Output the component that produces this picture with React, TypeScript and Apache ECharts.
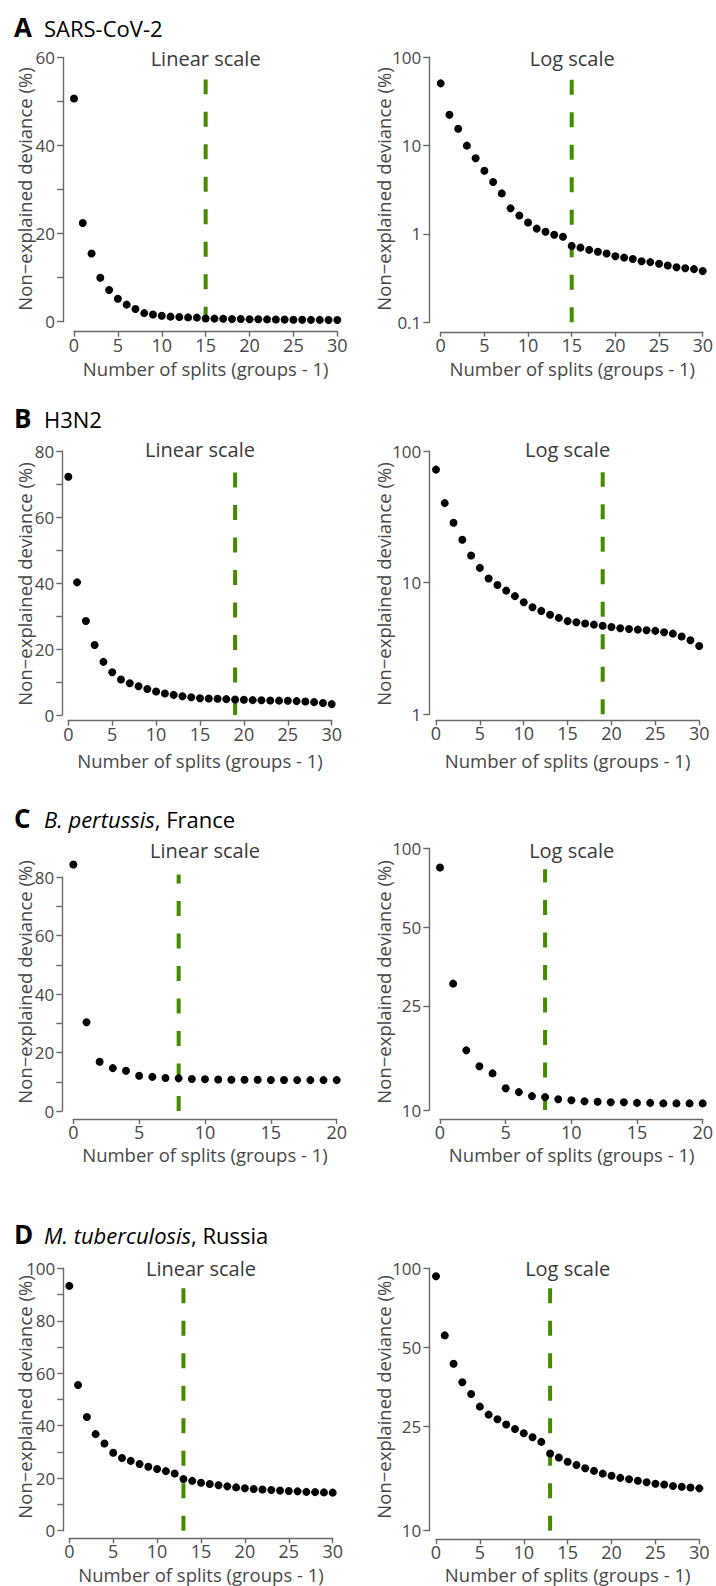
import React, { useEffect, useRef } from "react";
import * as echarts from "echarts";

const W = 716;
const H = 1586;
const FONT = "'Open Sans', 'Noto Sans', sans-serif";

// Non-explained deviance (%) for 0..n splits
const sarsCov2 = [50.7, 22.4, 15.5, 10.0, 7.2, 5.2, 3.87, 2.88, 1.95, 1.62, 1.35, 1.15, 1.06, 0.98, 0.93, 0.73, 0.70, 0.66, 0.63, 0.60, 0.56, 0.54, 0.52, 0.49, 0.48, 0.46, 0.44, 0.42, 0.41, 0.40, 0.38];
const h3n2 = [72.2, 40.2, 28.5, 21.2, 16.1, 12.95, 10.75, 9.6, 8.7, 7.9, 7.1, 6.5, 6.1, 5.7, 5.4, 5.1, 5.0, 4.9, 4.8, 4.7, 4.6, 4.5, 4.45, 4.4, 4.35, 4.3, 4.2, 4.1, 3.9, 3.65, 3.3];
const pertussis = [84.4, 30.4, 16.9, 14.7, 13.8, 12.1, 11.7, 11.3, 11.2, 11.0, 10.9, 10.8, 10.75, 10.7, 10.7, 10.65, 10.65, 10.6, 10.6, 10.6, 10.6];
const tuberculosis = [93.3, 55.5, 43.3, 36.8, 33.2, 29.7, 27.7, 26.6, 25.4, 24.4, 23.5, 22.7, 21.8, 19.7, 19.0, 18.3, 17.8, 17.3, 16.9, 16.5, 16.2, 15.9, 15.7, 15.5, 15.3, 15.1, 15.0, 14.8, 14.7, 14.6, 14.5];

// Selected number of splits (dashed line)
const chosenSplits = [15, 19, 8, 13];

// Axis ticks and labels
const xTicks30 = [0, 5, 10, 15, 20, 25, 30];
const xTicks20 = [0, 5, 10, 15, 20];
const linLabelsA = [0, 20, 40, 60];
const linTicksA = [0, 10, 20, 30, 40, 50, 60];
const linLabelsB = [0, 20, 40, 60, 80];
const linTicksB = [0, 10, 20, 30, 40, 50, 60, 70, 80];
const linLabelsC = [0, 20, 40, 60, 80];
const linTicksC = [0, 10, 20, 30, 40, 50, 60, 70, 80];
const linLabelsD = [0, 20, 40, 60, 80, 100];
const linTicksD = [0, 10, 20, 30, 40, 50, 60, 70, 80, 90, 100];
const logTicksA = [0.1, 1, 10, 100];
const logTicksB = [1, 10, 100];
const logTicksC = [10, 25, 50, 100];
const logTicksD = [10, 25, 50, 100];

const panelTitles = [
  { letter: "A", text: "SARS-CoV-2" },
  { letter: "B", text: "H3N2" },
  { letter: "C", text: "{i|B. pertussis}, France" },
  { letter: "D", text: "{i|M. tuberculosis}, Russia" },
];

type Panel = {
  values: number[];
  cut: number;
  log: boolean;
  labels: number[];
  ticks: number[];
  xTicks: number[];
  dashTop: number;
  box: [number, number, number, number];
  yOff: number;
  xOff: number;
  row: number;
};

const panels: Panel[] = [
  { values: sarsCov2, cut: chosenSplits[0], log: false, labels: linLabelsA, ticks: linTicksA, xTicks: xTicks30, dashTop: 55, box: [74, 57.5, 263.3, 264.2], yOff: 11, xOff: 10, row: 0 },
  { values: sarsCov2, cut: chosenSplits[0], log: true, labels: logTicksA, ticks: logTicksA, xTicks: xTicks30, dashTop: 56.8, box: [440.7, 57.3, 263.1, 265], yOff: 11.4, xOff: 9.5, row: 0 },
  { values: h3n2, cut: chosenSplits[1], log: false, labels: linLabelsB, ticks: linTicksB, xTicks: xTicks30, dashTop: 73.5, box: [68.3, 451, 263.4, 264], yOff: 6, xOff: 5.7, row: 1 },
  { values: h3n2, cut: chosenSplits[1], log: true, labels: logTicksB, ticks: logTicksB, xTicks: xTicks30, dashTop: 68.9, box: [436, 451, 263.2, 263.3], yOff: 6.7, xOff: 6, row: 1 },
  { values: pertussis, cut: chosenSplits[2], log: false, labels: linLabelsC, ticks: linTicksC, xTicks: xTicks20, dashTop: 81, box: [73.3, 877.3, 263.4, 233.8], yOff: 11, xOff: 8, row: 2 },
  { values: pertussis, cut: chosenSplits[2], log: true, labels: logTicksC, ticks: logTicksC, xTicks: xTicks20, dashTop: 83.1, box: [440, 848.3, 263.3, 261.7], yOff: 10.7, xOff: 9, row: 2 },
  { values: tuberculosis, cut: chosenSplits[3], log: false, labels: linLabelsD, ticks: linTicksD, xTicks: xTicks30, dashTop: 92.4, box: [69.3, 1268.3, 263.4, 262.4], yOff: 6, xOff: 7.6, row: 3 },
  { values: tuberculosis, cut: chosenSplits[3], log: true, labels: logTicksD, ticks: logTicksD, xTicks: xTicks30, dashTop: 83.9, box: [436, 1268.3, 263.3, 262.4], yOff: 6.7, xOff: 8.6, row: 3 },
];

const rowTitleY = [26.5, 418, 817.5, 1234];
const rowSubtitleY = [58.5, 449, 850, 1268.5];
const rowYTitleY = [189, 584, 982, 1397];
const rowXTitleY = [368, 760, 1154, 1574.5];

const AXIS_COLOR = "#6a6a6a";
const LABEL_COLOR = "#474747";
const GREEN = "#458B00";

function fmtNum(v: number): string {
  const r = Math.round(v * 10) / 10;
  return String(r);
}

function buildOption() {
  const grid: any[] = [];
  const xAxis: any[] = [];
  const yAxis: any[] = [];
  const series: any[] = [];
  const graphic: any[] = [];

  const axisLine = { show: true, onZero: false, lineStyle: { color: AXIS_COLOR, width: 1.4 } };
  const axisTickBase = { show: true, length: 6, lineStyle: { color: AXIS_COLOR, width: 1.4 } };
  const labelBase = { color: LABEL_COLOR, fontSize: 17, fontFamily: FONT };

  panels.forEach((p, i) => {
    const [left, top, width, height] = p.box;
    grid.push({ left, top, width, height, containLabel: false });
    const xMax = p.xTicks[p.xTicks.length - 1];
    xAxis.push({
      type: "value",
      gridIndex: i,
      position: "bottom",
      min: 0,
      max: xMax,
      interval: 5,
      offset: p.xOff,
      axisLine,
      axisTick: { ...axisTickBase, length: 5 },
      axisLabel: { ...labelBase, fontSize: 18, margin: 4 },
      splitLine: { show: false },
    });

    const yMin = p.ticks[0];
    const yMax = p.ticks[p.ticks.length - 1];
    let dataAxis: number;
    if (p.log) {
      dataAxis = yAxis.length;
      yAxis.push({
        type: "log",
        logBase: 10,
        gridIndex: i,
        position: "left",
        min: yMin,
        max: yMax,
        axisLine: { show: false, onZero: false },
        axisTick: { show: false },
        axisLabel: { show: false },
        splitLine: { show: false },
      });
      // tick axis in log10 units, so that any tick value can be placed
      yAxis.push({
        type: "value",
        gridIndex: i,
        position: "left",
        min: Math.log10(yMin),
        max: Math.log10(yMax),
        offset: p.yOff,
        axisLine,
        axisTick: { ...axisTickBase, customValues: p.ticks.map((t) => Math.log10(t)) },
        axisLabel: {
          ...labelBase,
          margin: 8,
          customValues: p.labels.map((t) => Math.log10(t)),
          formatter: (v: number) => fmtNum(Math.pow(10, v)),
        },
        splitLine: { show: false },
      });
    } else {
      dataAxis = yAxis.length;
      yAxis.push({
        type: "value",
        gridIndex: i,
        position: "left",
        min: yMin,
        max: yMax,
        offset: p.yOff,
        axisLine,
        axisTick: { ...axisTickBase, customValues: p.ticks },
        axisLabel: { ...labelBase, margin: 8, customValues: p.labels },
        splitLine: { show: false },
      });
    }

    series.push({
      type: "line",
      xAxisIndex: i,
      yAxisIndex: dataAxis,
      data: [
        [p.cut, yMin],
        [p.cut, p.dashTop],
      ],
      symbol: "none",
      clip: false,
      lineStyle: { color: GREEN, width: 4, type: [15, 17.5], cap: "butt" },
      z: 3,
      silent: true,
    });
    series.push({
      type: "scatter",
      xAxisIndex: i,
      yAxisIndex: dataAxis,
      data: p.values.map((v, k) => [k, v]),
      symbol: "circle",
      symbolSize: 8,
      clip: false,
      itemStyle: { color: "#000", opacity: 1 },
      z: 4,
      silent: true,
    });

    const cx = left + width / 2;
    graphic.push({
      type: "text",
      x: cx,
      y: rowSubtitleY[p.row],
      style: { text: p.log ? "Log scale" : "Linear scale", font: `20px ${FONT}`, fill: "#3a3a3a", align: "center", verticalAlign: "middle" },
    });
    graphic.push({
      type: "text",
      x: cx,
      y: rowXTitleY[p.row],
      style: { text: "Number of splits (groups - 1)", font: `18.5px ${FONT}`, fill: LABEL_COLOR, align: "center", verticalAlign: "middle" },
    });
    graphic.push({
      type: "text",
      x: i % 2 === 0 ? 24 : 383,
      y: rowYTitleY[p.row],
      rotation: Math.PI / 2,
      style: { text: "Non\u2212explained deviance (%)", font: `18.5px ${FONT}`, fill: LABEL_COLOR, align: "center", verticalAlign: "middle" },
    });
  });

  panelTitles.forEach((t, r) => {
    graphic.push({
      type: "text",
      x: 14,
      y: rowTitleY[r],
      style: { text: t.letter, font: `bold 26px ${FONT}`, fill: "#000", align: "left", verticalAlign: "middle" },
    });
    graphic.push({
      type: "text",
      x: 44,
      y: rowTitleY[r] + 1,
      style: {
        text: t.text,
        font: `22px ${FONT}`,
        fill: "#000",
        align: "left",
        verticalAlign: "middle",
        rich: { i: { fontStyle: "italic", fontSize: 22, fontFamily: FONT, fill: "#000" } },
      },
    });
  });

  return {
    animation: false,
    backgroundColor: "#ffffff",
    textStyle: { fontFamily: FONT },
    grid,
    xAxis,
    yAxis,
    series,
    graphic,
  };
}

export default function App() {
  const ref = useRef<HTMLDivElement>(null);
  useEffect(() => {
    if (!ref.current) return;
    const chart = echarts.init(ref.current, null, { renderer: "svg" });
    chart.setOption(buildOption() as any);
    return () => chart.dispose();
  }, []);
  return (
    <div
      ref={ref}
      style={{ position: "absolute", left: 0, top: 0, width: W, height: H, background: "#fff" }}
    />
  );
}
